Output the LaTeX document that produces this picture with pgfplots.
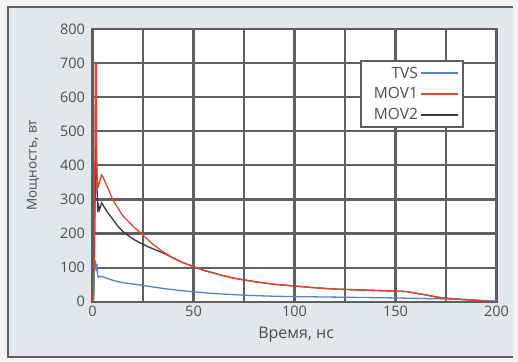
\documentclass[border=0pt]{standalone}
\usepackage{pgfplots}
\pgfplotsset{compat=1.18}
\usepackage{fontspec}
\setmainfont{Open Sans}
\definecolor{bgout}{HTML}{F2F3F5}
\definecolor{bgin}{HTML}{E3E6EB}
\definecolor{framec}{HTML}{5E5E5E}
\definecolor{gridc}{HTML}{606060}
\definecolor{txt}{HTML}{4E4E4E}
\definecolor{tvs}{HTML}{5B80C2}
\definecolor{movone}{HTML}{E2462F}
\definecolor{movtwo}{HTML}{3A3A3A}
\begin{document}
\begin{tikzpicture}[x=1pt,y=1pt]
\useasboundingbox (0,0) rectangle (518,361);
\fill[bgout] (0,0) rectangle (518,361);
\fill[bgin] (8,4) rectangle (513,353.7);
\draw[framec,line width=1.8pt] (513,4) -- (8,4) -- (8,353.7) -- (513,353.7);
\begin{axis}[
  at={(92.5pt,59.3pt)}, anchor=south west,
  scale only axis, width=404pt, height=272.7pt,
  xmin=0, xmax=200, ymin=0, ymax=800,
  xtick={0,50,100,150,200}, minor xtick={0,25,...,200},
  ytick={0,100,...,800}, minor ytick={0,100,...,800},
  xmajorgrids=false, ymajorgrids=false,
  xminorgrids=true, yminorgrids=true,
  minor grid style={draw=gridc,line width=2.2pt},
  major tick length=0pt, minor tick length=0pt,
  axis line style={framec,line width=2.4pt},
  axis background/.style={fill=white},
  /pgf/number format/assume math mode=true,
  ticklabel style={font=\fontsize{14.5}{16}\selectfont, text=txt},
  yticklabel style={xshift=-4pt},
  xticklabel style={yshift=-1pt},
  xlabel={Время, нс}, ylabel={Мощность, вт},
  xlabel style={font=\fontsize{16}{18}\selectfont, text=txt,
    at={(axis description cs:0.504,-0.12)}, anchor=center},
  ylabel style={font=\fontsize{13.5}{15}\selectfont, text=txt,
    at={(axis description cs:-0.147,0.5)}, anchor=center},
  legend cell align=right,
  legend plot pos=right,
  legend style={at={(axis description cs:0.662,0.886)}, anchor=north west,
    draw=framec, line width=1.8pt, fill=white,
    font=\fontsize{15.5}{17}\selectfont,
    nodes={text=txt, inner sep=2pt},
    row sep=4pt, inner xsep=4pt, inner ysep=4pt},
  legend image code/.code={\draw[#1, line width=2pt] (0.15cm,0cm) -- (1.3cm,0cm);
    \path (0cm,0cm) -- (1.3cm,0cm);},
]
\addlegendimage{tvs}
\addlegendimage{movone}
\addlegendimage{movtwo}
\legend{\hspace*{7pt}TVS,\hspace*{7pt}MOV1,\hspace*{7pt}MOV2}
% MOV2
\addplot[movtwo, line width=1.3pt, forget plot] coordinates {
(0.5,0) (1.3,300) (1.6,500) (2.0,420) (2.3,320) (2.6,262) (3.0,282) (3.5,270)
(4.5,290) (5,285) (7.5,262) (10,242) (12.5,222) (15,206) (20,184) (25,168)
(30,155) (35,143) (40,128) (45,114) (50,103) (55,92) (60,84) (65,76) (70,69)
(75,64) (80,59) (90,51) (100,46) (110,41) (120,37) (130,35) (140,33) (150,31)
(155,30) (160,25) (165,20) (170,14) (175,10) (180,8) (190,4) (200,0)};
% TVS
\addplot[tvs, line width=1.3pt, forget plot] coordinates {
(0.4,0) (0.8,60) (1.0,125) (1.3,100) (1.5,120) (1.8,90) (2.2,110) (2.5,78)
(3,72) (4,75) (5,73) (7.5,68) (10,63) (12.5,59) (15,56) (20,52) (25,48)
(30,43) (40,35) (50,29) (60,24) (75,19) (90,16) (100,15) (125,13) (150,11)
(175,8) (200,2)};
% MOV1
\addplot[movone, line width=1.3pt, forget plot] coordinates {
(0.3,0) (1.0,150) (1.4,700) (1.8,700) (2.0,480) (2.3,330) (2.6,350) (3,340)
(4.5,372) (5,368) (7.5,335) (10,300) (15,252) (20,222) (25,195) (30,168)
(35,146) (40,128) (45,114) (50,103) (55,92) (60,84) (65,76) (70,69) (75,64)
(80,59) (90,51) (100,46) (110,41) (120,37) (130,35) (140,33) (150,31)
(155,30) (160,25) (165,20) (170,14) (175,10) (180,8) (190,4) (200,0)};
\end{axis}
\end{tikzpicture}
\end{document}
